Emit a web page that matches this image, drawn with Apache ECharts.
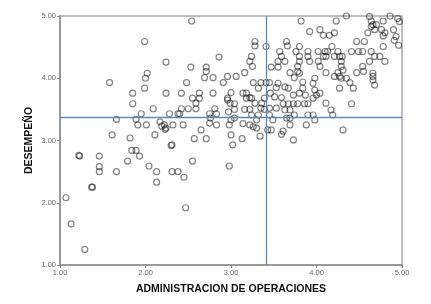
<!DOCTYPE html>
<html>
<head>
<meta charset="utf-8">
<title>Dispersión</title>
<script src="https://cdn.jsdelivr.net/npm/echarts@6/dist/echarts.min.js"></script>
<style>
	html, body { margin: 0; padding: 0; background: #fff; }
	#scatter_chart { width: 431px; height: 304px; }
</style>
</head>
<body>
<div id="scatter_chart"></div>
<script>
// puntos [administracion, desempeno]
var puntosBajos = [
	[1.07,2.08],[1.13,1.66],[1.29,1.25],[1.23,2.75],[1.22,2.76],[1.37,2.25],[1.38,2.25],
	[1.46,2.75],[1.46,2.58],[1.46,2.50],[1.66,2.50],[1.79,2.67],[1.84,2.84],[1.89,2.84],
	[1.93,2.75],[2.04,2.59],[2.13,2.50],[2.13,2.33],[2.31,2.50],[2.38,2.50],[2.45,2.41],
	[2.47,1.92],[2.55,2.67],[2.98,2.59],[2.30,2.92],[2.31,2.93],[3.02,2.93],[3.73,3.01]
];
var puntosMedios = [
	[1.58,3.93],[1.85,3.76],[1.85,3.59],[1.99,3.84],[2.02,4.08],[2.00,4.00],[1.99,4.59],
	[1.95,3.43],[1.66,3.34],[1.89,3.34],[1.91,3.25],[2.01,3.25],[1.61,3.09],[1.82,3.04],
	[2.54,4.92],[2.24,4.26],[2.86,4.34],[2.53,4.18],[2.71,4.18],[2.71,4.11],[2.69,4.01],
	[2.79,4.01],[2.48,3.93],[2.91,3.93],[2.24,3.76],[2.42,3.76],[2.63,3.76],[2.79,3.76],
	[2.55,3.68],[2.63,3.68],[2.96,3.68],[2.99,3.60],[2.59,3.60],[2.09,3.51],[2.42,3.51],
	[2.50,3.51],[2.59,3.51],[2.81,3.51],[2.28,3.43],[2.38,3.43],[2.40,3.43],[2.75,3.43],
	[2.83,3.43],[2.17,3.30],[2.19,3.23],[2.24,3.20],[2.22,3.25],[2.23,3.18],[2.32,3.25],
	[2.44,3.25],[2.75,3.28],[2.76,3.36],[2.83,3.25],[2.98,3.25],[2.11,3.09],[2.65,3.17],
	[2.57,3.03],[2.71,3.03]
];
var puntosCentro = [
	[3.82,4.92],[3.28,4.59],[3.28,4.52],[3.41,4.51],[3.65,4.59],[3.66,4.52],[3.80,4.51],
	[3.57,4.43],[3.76,4.43],[3.90,4.43],[3.24,4.35],[3.22,4.27],[3.63,4.27],[3.80,4.35],
	[3.80,4.27],[3.78,4.19],[3.78,4.11],[3.80,4.08],[3.90,4.35],[3.47,4.18],[3.55,4.18],
	[3.16,4.09],[3.69,4.09],[3.74,4.01],[3.84,3.94],[2.96,4.03],[3.06,4.03],[3.26,3.93],
	[3.35,3.93],[3.41,3.93],[3.45,3.93],[3.63,3.86],[3.67,3.84],[3.53,3.85],[3.84,3.84],
	[3.96,3.92],[3.00,3.77],[3.14,3.76],[3.18,3.76],[3.22,3.69],[3.18,3.68],[3.24,3.68],
	[3.39,3.68],[3.51,3.70],[3.59,3.69],[3.73,3.73],[3.80,3.76],[3.61,3.59],[3.67,3.59],
	[3.73,3.59],[3.78,3.59],[3.86,3.59],[3.90,3.59],[3.96,3.68],[2.96,3.65],[3.04,3.59],
	[3.04,3.50],[3.16,3.50],[3.22,3.50],[3.35,3.52],[3.39,3.50],[3.45,3.52],[3.53,3.52],
	[3.63,3.49],[3.69,3.49],[3.24,3.41],[3.32,3.41],[3.45,3.41],[3.74,3.41],[3.96,3.41],
	[3.00,3.33],[3.04,3.36],[3.30,3.33],[3.49,3.33],[3.65,3.36],[3.69,3.36],[3.90,3.41],
	[3.22,3.25],[3.26,3.22],[3.43,3.17],[3.47,3.17],[3.61,3.15],[3.59,3.10],[3.34,3.07],
	[3.00,3.09],[3.13,3.03],[3.69,3.25],[3.88,3.25],[3.25,4.19],[3.32,3.84],[2.97,3.46],
	[3.30,3.20],[3.14,3.27],[3.28,3.60],[3.36,3.60],[3.46,3.76],[3.55,3.92],[3.55,4.27],
	[3.59,4.35],[3.92,4.27],[3.87,3.73],[3.92,4.75]
];
var puntosAltos = [
	[4.35,5.00],[4.23,4.92],[4.64,4.92],[4.66,4.86],[4.64,4.83],[4.70,4.86],[4.68,4.78],
	[4.78,4.92],[4.86,5.00],[4.95,4.96],[4.97,4.91],[4.76,4.78],[4.80,4.73],[4.90,4.78],
	[4.91,4.61],[4.93,4.67],[4.60,4.73],[4.78,4.68],[4.96,4.53],[4.04,4.78],[4.08,4.69],
	[4.15,4.69],[4.21,4.73],[4.47,4.59],[4.56,4.59],[4.78,4.51],[4.10,4.43],[4.13,4.43],
	[4.25,4.43],[4.27,4.35],[4.21,4.35],[4.08,4.35],[4.11,4.35],[4.41,4.43],[4.49,4.43],
	[4.54,4.43],[4.64,4.43],[4.68,4.35],[4.74,4.35],[4.80,4.27],[4.02,4.27],[4.04,4.19],
	[4.29,4.19],[4.31,4.13],[4.11,4.09],[4.25,4.09],[4.27,4.03],[4.47,4.09],[4.54,4.19],
	[4.62,4.27],[4.66,4.08],[4.66,4.03],[4.21,4.03],[4.29,4.00],[4.35,4.00],[4.39,3.93],
	[4.43,3.84],[4.27,3.84],[4.66,3.97],[4.68,3.89],[4.00,3.73],[3.98,3.81],[4.11,3.60],
	[4.17,3.49],[4.19,3.41],[4.41,3.59],[3.98,3.33],[4.31,3.17],[4.62,4.99],[4.18,4.51],
	[4.55,4.11],[4.29,4.27],[3.98,4.00],[4.04,3.76],[4.30,4.35],[4.02,4.43]
];

// lineas de referencia (medias)
var mediaAdministracion = 3.41;
var mediaDesempeno = 3.37;

// marcas del eje
var ejeMin = 1;
var ejeMax = 5;
var ejePaso = 1;

var Dispersion = {

	init: function () {
		this.renderChart();
	},

	// juntar todos los grupos
	getData: function () {
		return [].concat(puntosBajos, puntosMedios, puntosCentro, puntosAltos);
	},

	// eje comun para x e y
	buildAxis: function (nombre, gap, extra) {
		var axis = {
			type: 'value',
			name: nombre,
			nameLocation: 'middle',
			nameGap: gap,
			nameMoveOverlap: false,
			nameTextStyle: {
				fontFamily: 'Liberation Sans',
				fontWeight: 'bold',
				fontSize: 10.5,
				color: '#111'
			},
			min: ejeMin,
			max: ejeMax,
			interval: ejePaso,
			splitLine: { show: false },
			axisLine: { show: true, lineStyle: { color: '#9a9a9a', width: 2 } },
			axisTick: { show: true, length: 3, lineStyle: { color: '#888' } },
			axisLabel: {
				fontFamily: 'Liberation Sans',
				fontSize: 7.5,
				color: '#666',
				margin: 4,
				formatter: function (v) { return v.toFixed(2); }
			}
		};
		for (var k in extra) { axis[k] = extra[k]; }
		return axis;
	},

	renderChart: function () {
		var myChart = echarts.init(document.getElementById('scatter_chart'));
		var option = {
			animation: false,
			grid: {
				left: 60,
				right: 29,
				top: 16,
				bottom: 39,
				show: true,
				borderColor: '#a8a8a8',
				borderWidth: 1.5
			},
			xAxis: this.buildAxis('ADMINISTRACION DE OPERACIONES', 19, {}),
			yAxis: this.buildAxis('DESEMPEÑO', 25, { nameRotate: 90 }),
			series: [
				{
					type: 'scatter',
					symbol: 'circle',
					symbolSize: 6,
					data: this.getData(),
					itemStyle: {
						color: 'rgba(255,255,255,0)',
						borderColor: 'rgba(20,20,20,0.65)',
						borderWidth: 1.2
					},
					markLine: {
						silent: true,
						symbol: 'none',
						label: { show: false },
						lineStyle: { color: '#5b87c9', width: 1.3, type: 'solid' },
						data: [
							{ xAxis: mediaAdministracion },
							{ yAxis: mediaDesempeno }
						]
					}
				}
			]
		};
		myChart.setOption(option);
	}
};

Dispersion.init();
</script>
</body>
</html>
